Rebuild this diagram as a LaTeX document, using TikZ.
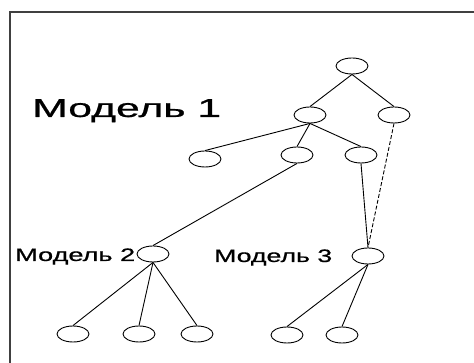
\documentclass[tikz,border=0pt]{standalone}
\usepackage{fontspec}
\setmainfont{Liberation Sans}
\newfontfamily\lblfont[FakeBold=0.6]{Liberation Sans}
\usetikzlibrary{shapes.geometric}
\begin{document}
\begin{tikzpicture}[x=1pt,y=-1pt,
  nd/.style={draw, ellipse, minimum width=32pt, minimum height=16pt, inner sep=0pt, line width=0.9pt},
  edge/.style={line width=0.9pt},
  lbl/.style={inner sep=0pt, anchor=base west}]
\useasboundingbox (0,0) rectangle (474,363);
\fill[white] (0,0) rectangle (474,363);
\coordinate (tl) at (10,12);
\coordinate (tr) at (474,12);
\coordinate (bl) at (10,363);
\draw[line width=1.3pt, black!75] (tr) -- (tl) -- (bl);
% nodes
\node[nd] (r)  at (352,66) {};
\node[nd] (l1) at (310,115) {};
\node[nd] (r1) at (394,115) {};
\node[nd] (a2) at (205,159) {};
\node[nd] (b2) at (297,155) {};
\node[nd] (c2) at (361,155) {};
\node[nd] (m2) at (153,254) {};
\node[nd] (m3) at (368,256) {};
\node[nd] (x1) at (73,334) {};
\node[nd] (x2) at (139,334) {};
\node[nd] (x3) at (197,334) {};
\node[nd] (y1) at (287,335) {};
\node[nd] (y2) at (342,335) {};
% labels
\node[lbl] (t1) at (32,117) {\resizebox{189pt}{\height}{\lblfont\fontsize{26}{30}\selectfont Модель 1}};
\node[lbl] (t2) at (15,261) {\resizebox{120pt}{\height}{\lblfont\fontsize{18}{21}\selectfont Модель 2}};
\node[lbl] (t3) at (214,262) {\resizebox{118pt}{\height}{\lblfont\fontsize{18}{21}\selectfont Модель 3}};
% edges
\draw[edge] (r.south) -- (l1.north);
\draw[edge] (r.south) -- (r1.north);
\draw[edge] (l1.south) -- (a2.north);
\draw[edge] (l1.south) -- (b2.north);
\draw[edge] (l1.south) -- (c2.north);
\draw[edge] (b2.south) -- (m2.north);
\draw[edge] (c2.south) -- (m3.north);
\draw[edge, dash pattern=on 4pt off 2pt] (r1.south) -- (m3.north);
\draw[edge] (m2.south) -- (x1.north);
\draw[edge] (m2.south) -- (x2.north);
\draw[edge] (m2.south) -- (x3.north);
\draw[edge] (m3.south) -- (y1.north);
\draw[edge] (m3.south) -- (y2.north);
\end{tikzpicture}
\end{document}
